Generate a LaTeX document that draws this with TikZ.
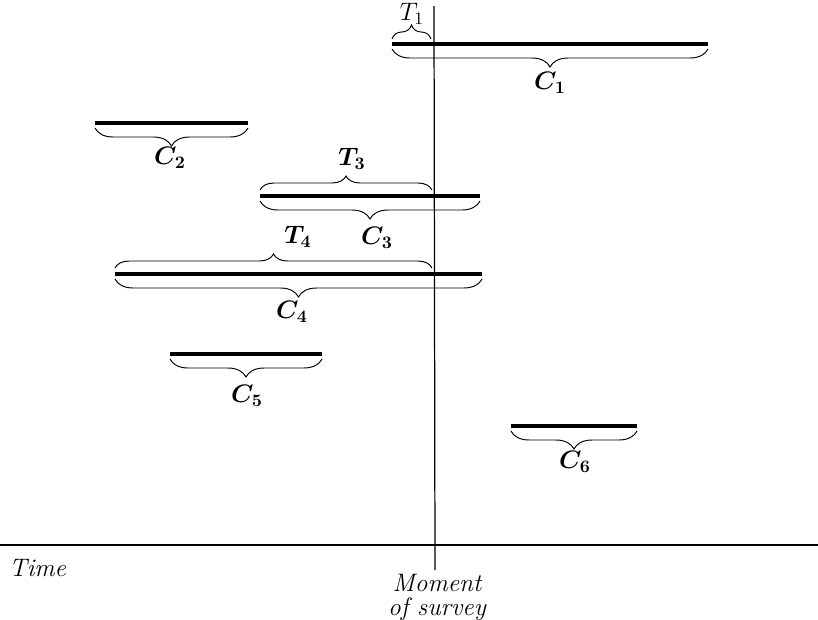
\documentclass[tikz,border=0pt]{standalone}
\usepackage{amsmath}
\usetikzlibrary{calc, decorations.pathreplacing}
\tikzset{
  period/.style={   % duration of one case (heavy bar)
    line width=2.3pt, color=black
  },
  survey/.style={   % moment of survey (thin vertical)
    line width=0.7pt, color=black
  },
  axis/.style={     % time axis
    line width=1.4pt, color=black
  },
  bracebox/.style={ % curly brace under a bar
    decorate, decoration={brace, amplitude=0.36cm}, line width=0.55pt
  },
  tbrace/.style={   % curly brace over a bar, up to the survey
    decorate, decoration={brace, amplitude=0.28cm}, line width=0.55pt
  },
  clab/.style={     % case label C_i
    font=\Large\boldmath, inner sep=1pt
  },
  tlab/.style={     % elapsed-time label T_i
    font=\Large, inner sep=1pt
  },
  txt/.style={
    font=\Large\itshape, inner sep=1pt
  },
}

\begin{document}
\begin{tikzpicture}[x=0.02cm, y=-0.02cm]
\useasboundingbox (0,0) rectangle (818,619);

%% ─── Time axis and moment of survey ──────────────────────────────────────────
\coordinate (tleft)  at (0,545);
\coordinate (tright) at (818,545);
\coordinate (stop)   at (434,6);
\coordinate (sbot)   at (435,570);

\draw[axis]   (tleft) -- (tright);
\draw[survey] (stop) -- (sbot);

\node[txt, anchor=west] (time) at (7,568) {Time};
\node[txt, anchor=north, align=center] (moment) at (437,572)
  {Moment\\[-4pt]of survey};

%% ─── Case bars ───────────────────────────────────────────────────────────────
\coordinate (c1l) at (392,44);  \coordinate (c1r) at (708,44);
\coordinate (c2l) at (95,123);  \coordinate (c2r) at (248,123);
\coordinate (c3l) at (260,196); \coordinate (c3r) at (480,196);
\coordinate (c4l) at (115,274); \coordinate (c4r) at (482,274);
\coordinate (c5l) at (170,354); \coordinate (c5r) at (322,354);
\coordinate (c6l) at (511,426); \coordinate (c6r) at (637,426);

\foreach \i in {1,...,6}
  \draw[period] (c\i l) -- (c\i r);

%% braces under each bar
\foreach \i in {1,...,6}
  \draw[bracebox] ($(c\i r)+(0,5)$) -- ($(c\i l)+(0,5)$);

\node[clab] (lc1) at (550,83)  {$C_1$};
\node[clab] (lc2) at (170,158) {$C_2$};
\node[clab] (lc3) at (377,238) {$C_3$};
\node[clab] (lc4) at (292,312) {$C_4$};
\node[clab] (lc5) at (247,396) {$C_5$};
\node[clab] (lc6) at (575,462) {$C_6$};

%% braces above: time elapsed up to the survey
\draw[tbrace] ($(c1l)+(0,-5)$) -- ($(c1l -| stop)+(-3,-5)$);
\draw[tbrace] ($(c3l)+(0,-6)$) -- ($(c3l -| stop)+(-2,-6)$);
\draw[tbrace] ($(c4l)+(0,-6)$) -- ($(c4l -| stop)+(-2,-6)$);

\node[tlab] (lt1) at (412,14)  {$T_1$};
\node[tlab, font=\Large\boldmath] (lt3) at (352,159) {$T_3$};
\node[tlab, font=\Large\boldmath] (lt4) at (298,237) {$T_4$};

\end{tikzpicture}
\end{document}
